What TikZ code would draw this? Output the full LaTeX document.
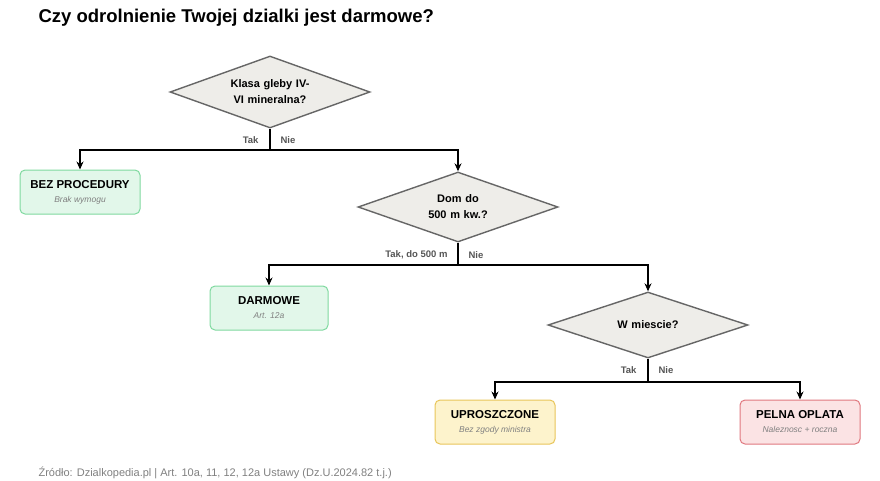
\documentclass[tikz,border=0pt]{standalone}
\usepackage{fontspec}
\setmainfont{Liberation Sans}
\usetikzlibrary{shapes.geometric, arrows.meta}
\definecolor{dgray}{HTML}{EEEDE9}
\definecolor{dline}{HTML}{666666}
\definecolor{gfill}{HTML}{E2F7EA}
\definecolor{gline}{HTML}{7FD99F}
\definecolor{yfill}{HTML}{FDF3CC}
\definecolor{yline}{HTML}{E8C55A}
\definecolor{rfill}{HTML}{FBE3E4}
\definecolor{rline}{HTML}{E0787F}
\definecolor{ltext}{HTML}{555555}
\newcommand{\subtxt}[1]{{\fontsize{8.5}{10}\selectfont\mdseries\itshape\color{gray}#1}}
\tikzstyle{decision} = [diamond, 
shape aspect=2.8,
inner sep=0pt,
minimum width=200pt, 
minimum height=72pt,
text centered, 
text width=112pt,
font=\fontsize{11}{16}\selectfont\bfseries,
line width=1.4pt,
draw=dline, 
fill=dgray]
\tikzstyle{result} = [rectangle, 
minimum width=120pt, 
minimum height=44pt, 
align=center, 
rounded corners=5pt,
line width=1pt,
font=\fontsize{11.5}{15}\selectfont\bfseries]
\tikzstyle{lab} = [font=\fontsize{9.5}{11}\selectfont\bfseries, text=ltext]
\tikzstyle{arrow} = [line width=1.1pt,-{Stealth[length=8pt,width=7pt]}]

\begin{document}
\begin{tikzpicture}[x=1pt, y=-1pt]
\useasboundingbox (0,0) rectangle (880,480);
\node (title) [anchor=west, font=\fontsize{18.5}{22}\selectfont\bfseries] at (35,18) {Czy odrolnienie Twojej dzialki jest darmowe?};
\node (dec1) [decision] at (270,92) {Klasa gleby IV-VI mineralna?};
\node (dec2) [decision, minimum height=70pt, text width=100pt] at (458,207) {Dom do 500 m kw.?};
\node (dec3) [decision, minimum height=66pt] at (648,325) {W miescie?};
\node (res1) [result, fill=gfill, draw=gline] at (80,192) {BEZ PROCEDURY\\[-1pt]\subtxt{Brak wymogu}};
\node (res2) [result, fill=gfill, draw=gline, minimum width=118pt] at (269,308) {DARMOWE\\[-1pt]\subtxt{Art. 12a}};
\node (res3) [result, fill=yfill, draw=yline] at (495,422) {UPROSZCZONE\\[-1pt]\subtxt{Bez zgody ministra}};
\node (res4) [result, fill=rfill, draw=rline] at (800,422) {PELNA OPLATA\\[-1pt]\subtxt{Naleznosc + roczna}};
\coordinate (j1) at (270,150);
\coordinate (j2) at (458,265);
\coordinate (j3) at (648,382);

\draw [arrow] (dec1.south) -- (j1) -| (res1);
\draw [arrow] (j1) -| (dec2.north);
\draw [arrow] (dec2.south) -- (j2) -| (res2);
\draw [arrow] (j2) -| (dec3.north);
\draw [arrow] (dec3.south) -- (j3) -| (res3);
\draw [arrow] (j3) -| (res4);
\node [lab, anchor=east] at (262,140) {Tak};
\node [lab, anchor=west] at (277,140) {Nie};
\node [lab, anchor=east] at (451,255) {Tak, do 500 m};
\node [lab, anchor=west] at (465,255) {Nie};
\node [lab, anchor=east] at (640,370) {Tak};
\node [lab, anchor=west] at (655,370) {Nie};

\node (src) [anchor=west, text=gray, font=\fontsize{11}{13}\selectfont] at (35,473) {Źródło: Dzialkopedia.pl | Art. 10a, 11, 12, 12a Ustawy (Dz.U.2024.82 t.j.)};
\end{tikzpicture}
\end{document}
